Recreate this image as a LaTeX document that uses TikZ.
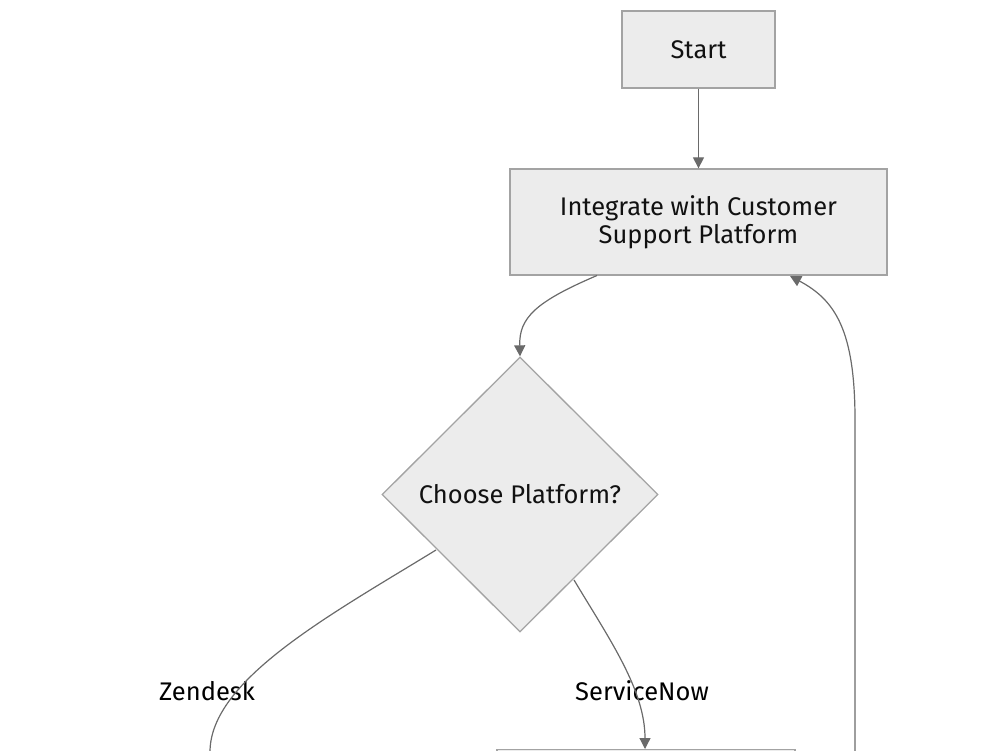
\documentclass[tikz,border=0pt]{standalone}
\usepackage{fontspec}
\setmainfont{Fira Sans}
\usetikzlibrary{shapes.geometric,arrows.meta}
\definecolor{boxfill}{HTML}{ECECEC}
\definecolor{boxline}{HTML}{A3A3A3}
\definecolor{edgecol}{HTML}{6A6A6A}
\definecolor{txt}{HTML}{111111}
\tikzset{
  box/.style={draw=boxline, fill=boxfill, line width=1.3pt, text=txt, inner sep=0pt, font=\fontsize{25.5}{28}\selectfont, align=center},
  decision/.style={diamond, draw=boxline, fill=boxfill, line width=1.3pt, text=txt, inner sep=0pt, font=\fontsize{25.5}{28}\selectfont, minimum width=276pt, minimum height=275pt, aspect=1},
  edge/.style={draw=edgecol, line width=1.2pt, -{Triangle[length=11pt,width=11pt]}},
  plainedge/.style={draw=edgecol, line width=1.2pt},
  elabel/.style={text=black, font=\fontsize{25.5}{28}\selectfont, inner sep=0pt}
}
\begin{document}
\begin{tikzpicture}[x=1pt,y=-1pt]
\useasboundingbox (0,0) rectangle (1000,750);
\clip (0,0) rectangle (1000,750);
\node[box, minimum width=153pt, minimum height=77pt] (start) at (698.5,49.5) {Start};
\node[box, minimum width=377pt, minimum height=106pt] (integ) at (698.5,222) {Integrate with Customer\\Support Platform};
\node[decision] (choose) at (520,494.5) {Choose Platform?};
\node[box, minimum width=298pt, minimum height=106pt, anchor=north] (snow) at (646,749) {};
\coordinate (zend) at (210,752);
\coordinate (loop) at (855,752);
\node[elabel] (lz) at (207,691) {Zendesk};
\node[elabel] (ls) at (642,691) {ServiceNow};
\draw[edge] (start.south) -- (integ.north);
\draw[edge] (597,275.5) .. controls (535,302) and (519,318) .. (choose.north);
\draw[plainedge] (436,550) .. controls (330,615) and (210,680) .. (zend);
\draw[edge] (574,580) .. controls (610,640) and (645,690) .. (snow.north -| 645,0);
\draw[edge] (loop) -- (855,420) .. controls (855,330) and (835,300) .. (790,276);
\end{tikzpicture}
\end{document}
